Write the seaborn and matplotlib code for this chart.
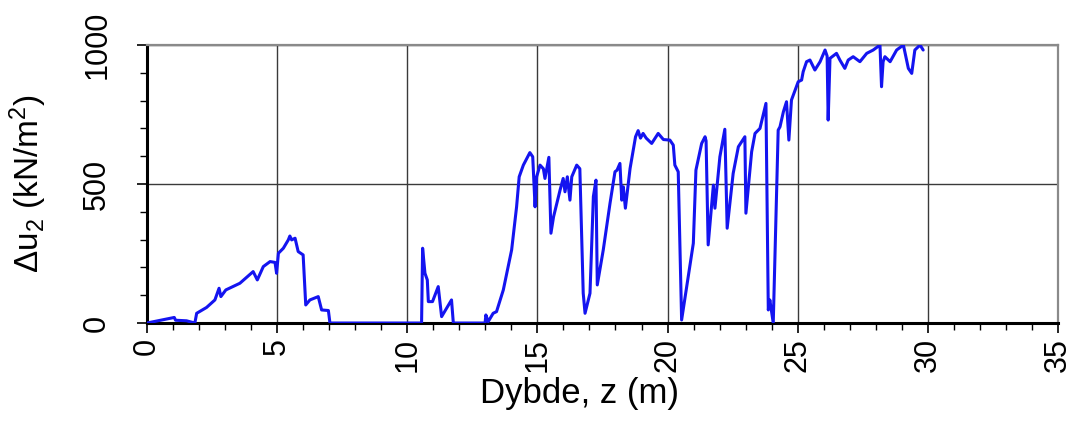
import pandas as pd
import matplotlib.pyplot as plt
import seaborn as sns
from matplotlib.ticker import MultipleLocator

# depth (m) and excess pore pressure du2 (kN/m2)
depth = [0.0, 1.05, 1.1, 1.52, 1.84, 1.91, 2.29, 2.61, 2.77, 2.84, 3.03, 3.57,
         4.08, 4.24, 4.47, 4.73, 4.92, 4.98, 5.05, 5.24, 5.43, 5.49, 5.56, 5.69,
         5.81, 6.00, 6.10, 6.26, 6.58, 6.71, 6.97, 7.03,
         10.55, 10.59, 10.68, 10.77, 10.81, 10.97, 11.19, 11.32, 11.70, 11.77,
         12.99, 13.02, 13.11, 13.30, 13.43, 13.69, 14.01, 14.20, 14.30, 14.46,
         14.71, 14.82, 14.91, 14.97, 15.10, 15.23, 15.29, 15.44, 15.52, 15.62,
         15.87, 15.99, 16.06, 16.15, 16.25, 16.32, 16.51, 16.63, 16.76, 16.83,
         17.02, 17.15, 17.25, 17.30, 17.53, 17.79, 17.98, 18.06, 18.17, 18.24,
         18.30, 18.38, 18.56, 18.77, 18.87, 18.96, 19.06, 19.18, 19.39, 19.64,
         19.84, 20.09, 20.22, 20.28, 20.41, 20.54, 20.99, 21.09, 21.31, 21.44,
         21.48, 21.56, 21.69, 21.76, 21.82, 22.01, 22.20, 22.29, 22.52, 22.72,
         22.97, 23.01, 23.23, 23.36, 23.55, 23.78, 23.87, 23.93, 24.06, 24.25,
         24.32, 24.45, 24.57, 24.66, 24.76, 25.02, 25.15, 25.21, 25.34, 25.47,
         25.66, 25.86, 26.05, 26.13, 26.17, 26.24, 26.49, 26.62, 26.81, 26.94,
         27.13, 27.39, 27.65, 27.90, 28.16, 28.22, 28.28, 28.35, 28.55, 28.80,
         29.06, 29.25, 29.38, 29.50, 29.70, 29.82]
du2 = [0, 20, 10, 8, 0, 35, 56, 83, 125, 95, 119, 143,
       185, 155, 203, 221, 218, 179, 251, 269, 299, 313, 299, 305,
       257, 245, 65, 83, 95, 47, 45, 0,
       0, 269, 179, 155, 77, 77, 131, 23, 83, 0,
       0, 29, 5, 35, 41, 119, 263, 418, 526, 568,
       613, 598, 418, 526, 568, 555, 520, 596, 323, 382,
       478, 520, 472, 526, 442, 526, 568, 555, 107, 35,
       107, 455, 514, 137, 263, 431, 544, 550, 574, 442,
       490, 413, 556, 670, 692, 665, 682, 665, 646, 682,
       660, 658, 640, 568, 544, 11, 287, 550, 646, 670,
       655, 281, 418, 496, 413, 598, 697, 341, 538, 634,
       670, 395, 616, 682, 700, 790, 47, 83, 0, 694,
       706, 760, 796, 658, 802, 868, 874, 904, 940, 946,
       910, 940, 982, 960, 730, 952, 970, 946, 916, 946,
       958, 940, 970, 982, 1000, 850, 940, 958, 940, 982,
       1000, 916, 898, 982, 1000, 982]

df = pd.DataFrame({"z": depth, "du2": du2})

sns.set_style("white")
plt.rcParams["font.family"] = ["Liberation Sans", "DejaVu Sans"]
plt.rcParams["mathtext.default"] = "regular"
plt.rcParams["text.color"] = "black"
plt.rcParams["axes.labelcolor"] = "black"
plt.rcParams["xtick.color"] = "black"
plt.rcParams["ytick.color"] = "black"

fig = plt.figure(figsize=(10.75, 4.3), dpi=100)
ax = fig.add_axes([0.1367, 0.2488, 0.8475, 0.6465])

sns.lineplot(data=df, x="z", y="du2", ax=ax, color="#1414f0", linewidth=2.2,
             estimator=None, sort=False, zorder=3)

ax.set_xlim(0, 35)
ax.set_ylim(0, 1000)
ax.xaxis.set_major_locator(MultipleLocator(5))
ax.xaxis.set_minor_locator(MultipleLocator(1))
ax.yaxis.set_major_locator(MultipleLocator(500))
ax.yaxis.set_minor_locator(MultipleLocator(100))
ax.grid(True, which="major", color="#3a3a3a", linewidth=1.0)

ax.tick_params(axis="both", which="major", direction="out", length=7, width=1.2,
               labelsize=22, bottom=True, left=True)
ax.tick_params(axis="x", which="major", pad=4)
ax.tick_params(axis="y", which="major", pad=18)
ax.tick_params(axis="both", which="minor", direction="out", length=5, width=1.0,
               bottom=True, left=True)
plt.setp(ax.get_xticklabels(), rotation=90, va="top", ha="center")
plt.setp(ax.get_yticklabels(), rotation=90, va="center", ha="right")

for side in ["left", "bottom"]:
    ax.spines[side].set_color("black")
    ax.spines[side].set_linewidth(2.2)
for side in ["top", "right"]:
    ax.spines[side].set_color("#8a8a8a")
    ax.spines[side].set_linewidth(1.6)

ax.set_xlabel("Dybde, z (m)", fontsize=25)
ax.set_ylabel("Δu$_2$ (kN/m$^2$)", fontsize=24)
ax.xaxis.set_label_coords(0.475, -0.195)
ax.yaxis.set_label_coords(-0.108, 0.5)

fig.savefig("out.png", dpi=100)
